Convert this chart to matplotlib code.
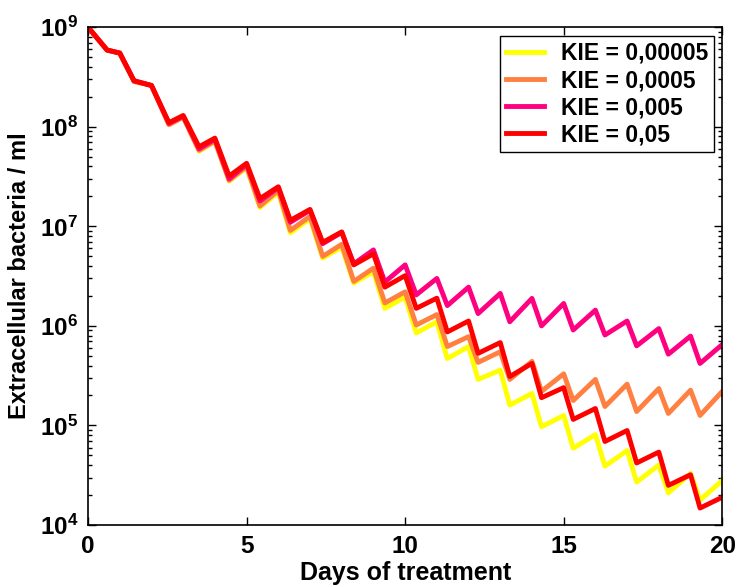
import numpy as np
import matplotlib
matplotlib.use('Agg')
import matplotlib.pyplot as plt
from matplotlib.ticker import LogLocator, FixedLocator, NullFormatter

# dose days (peaks) and the time of the low point after each dose
dose_days = list(range(0, 21))
trough_days = [0.6, 1.45, 2.55, 3.5, 4.45, 5.42, 6.38, 7.4, 8.38, 9.36,
               10.35, 11.33, 12.3, 13.3, 14.3, 15.3, 16.3, 17.3, 18.3, 19.3]

labels = ['KIE = 0,00005', 'KIE = 0,0005', 'KIE = 0,005', 'KIE = 0,05']
colors = ['#ffff00', '#ff8040', '#ff0080', '#ff0000']

# values at each dose day (0..20)
peaks_00005 = [1e9, 5.5e8, 2.6e8, 1.25e8, 7.1e7, 3.9e7, 2.2e7, 1.2e7, 6.2e6, 3.5e6,
               1.95e6, 1.1e6, 6.2e5, 3.6e5, 2.1e5, 1.26e5, 8.1e4, 5.6e4, 4.0e4, 3.3e4, 2.8e4]
peaks_0005 = [1e9, 5.5e8, 2.6e8, 1.25e8, 7.2e7, 4.0e7, 2.3e7, 1.26e7, 6.6e6, 3.8e6,
              2.2e6, 1.3e6, 7.8e5, 5.5e5, 4.4e5, 3.3e5, 2.9e5, 2.6e5, 2.35e5, 2.26e5, 2.2e5]
peaks_005 = [1e9, 5.5e8, 2.6e8, 1.28e8, 7.5e7, 4.2e7, 2.45e7, 1.45e7, 8.7e6, 5.8e6,
             4.1e6, 3.0e6, 2.45e6, 2.12e6, 1.89e6, 1.68e6, 1.44e6, 1.12e6, 9.4e5, 7.9e5, 6.5e5]
peaks_05 = [1e9, 5.5e8, 2.6e8, 1.3e8, 7.7e7, 4.3e7, 2.5e7, 1.48e7, 8.8e6, 5.3e6,
            3.2e6, 1.9e6, 1.12e6, 6.8e5, 4.2e5, 2.4e5, 1.48e5, 8.9e4, 5.4e4, 3.2e4, 1.9e4]

# values at the low point after each dose
troughs_00005 = [5.9e8, 2.85e8, 1.05e8, 5.7e7, 2.85e7, 1.55e7, 8.6e6, 4.8e6, 2.7e6, 1.5e6,
                 8.5e5, 4.7e5, 2.9e5, 1.6e5, 9.7e4, 5.9e4, 3.9e4, 2.7e4, 2.1e4, 1.78e4]
troughs_0005 = [5.9e8, 2.85e8, 1.05e8, 5.8e7, 2.9e7, 1.6e7, 9.1e6, 5.0e6, 2.8e6, 1.7e6,
                1.02e6, 6.2e5, 4.3e5, 2.9e5, 2.2e5, 1.78e5, 1.55e5, 1.38e5, 1.32e5, 1.26e5]
troughs_005 = [5.9e8, 2.9e8, 1.08e8, 6.0e7, 3.0e7, 1.8e7, 1.1e7, 6.7e6, 4.2e6, 2.76e6,
               2.05e6, 1.6e6, 1.33e6, 1.1e6, 1.0e6, 9.1e5, 8.1e5, 6.3e5, 5.2e5, 4.2e5]
troughs_05 = [5.9e8, 2.9e8, 1.1e8, 6.3e7, 3.2e7, 1.9e7, 1.15e7, 6.9e6, 4.1e6, 2.45e6,
              1.5e6, 8.7e5, 5.3e5, 3.1e5, 1.9e5, 1.15e5, 6.9e4, 4.2e4, 2.5e4, 1.48e4]

all_peaks = [peaks_00005, peaks_0005, peaks_005, peaks_05]
all_troughs = [troughs_00005, troughs_0005, troughs_005, troughs_05]

plt.rcParams['font.family'] = 'Liberation Sans'
plt.rcParams['font.weight'] = 'bold'
plt.rcParams['mathtext.fontset'] = 'custom'
plt.rcParams['mathtext.bf'] = 'Liberation Sans:bold'
plt.rcParams['mathtext.rm'] = 'Liberation Sans:bold'
plt.rcParams['mathtext.default'] = 'bf'

fig = plt.figure(figsize=(7.4, 5.87), dpi=100)
ax = fig.add_axes([0.119, 0.1056, 0.857, 0.848])

for pk, tr, c, lab in zip(all_peaks, all_troughs, colors, labels):
    t = []
    v = []
    for i in range(len(tr)):
        t += [dose_days[i], trough_days[i]]
        v += [pk[i], tr[i]]
    t.append(dose_days[-1])
    v.append(pk[-1])
    ax.plot(t, v, color=c, lw=3.5, label=lab, solid_joinstyle='round')

ax.set_yscale('log')
ax.set_xlim(0, 20)
ax.set_ylim(1e4, 1e9)
ax.xaxis.set_major_locator(FixedLocator([0, 5, 10, 15, 20]))
ax.yaxis.set_major_locator(LogLocator(base=10, numticks=10))
ax.yaxis.set_minor_locator(LogLocator(base=10, subs=np.arange(2, 10), numticks=10))
ax.yaxis.set_minor_formatter(NullFormatter())
ax.tick_params(which='both', direction='in', top=True, right=True, labelsize=17.5, width=1)
ax.tick_params(which='major', length=6, pad=7)
ax.tick_params(which='minor', length=3)
for s in ax.spines.values():
    s.set_linewidth(1.2)

ax.set_xlabel('Days of treatment', fontsize=18, fontweight='bold', labelpad=2)
ax.set_ylabel('Extracellular bacteria / ml', fontsize=17, fontweight='bold', labelpad=6)

leg = ax.legend(loc='upper right', bbox_to_anchor=(0.987, 0.982), borderaxespad=0,
                fancybox=False, edgecolor='black', framealpha=1, fontsize=16.5,
                handlelength=1.66, handletextpad=0.75, labelspacing=0.18, borderpad=0.25)
leg.get_frame().set_linewidth(1)

fig.savefig('out.png', dpi=100)
